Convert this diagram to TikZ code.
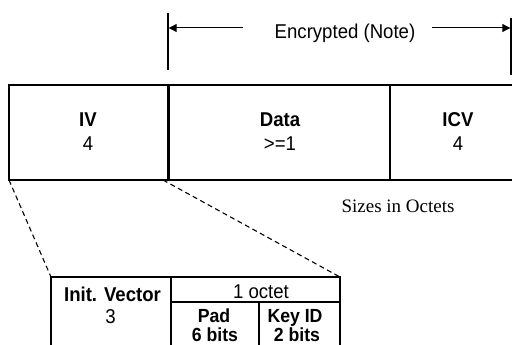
\documentclass[tikz,border=0pt]{standalone}
\usepackage{fontspec}
\setmainfont[FakeStretch=0.93]{Liberation Sans}
\newfontfamily\serifface{Liberation Serif}
\usetikzlibrary{arrows.meta,calc}
\begin{document}
\begin{tikzpicture}[x=1pt,y=-1pt,
  cell/.style={draw,line width=2.2pt,inner sep=0pt,outer sep=0pt,anchor=north west},
  lbl/.style={anchor=base,inner sep=0pt,font=\fontsize{20}{22}\selectfont\bfseries},
  num/.style={anchor=base,inner sep=0pt,font=\fontsize{20}{22}\selectfont},
  small/.style={anchor=base,inner sep=0pt,font=\fontsize{19}{21}\selectfont\bfseries},
  tick/.style={line width=1.4pt},
  dim/.style={line width=1pt,-{Triangle[length=8pt,width=8pt]}},
  zoomline/.style={line width=1.1pt,dash pattern=on 5pt off 3.5pt}]
\useasboundingbox[fill=white] (0,0) rectangle (512,345);

% frame: IV | Data | ICV
\node[cell,minimum width=159pt,minimum height=95pt] (iv)   at (9,85)   {};
\node[cell,minimum width=222pt,minimum height=95pt] (data) at (168,85) {};
\node[cell,minimum width=140pt,minimum height=95pt] (icv)  at (390,85) {};
\draw[line width=3pt] (data.north west) -- (data.south west);

\node[lbl] (ivt)   at (88,126)  {IV};
\node[num] (ivn)   at (88,150)  {4};
\node[lbl] (datat) at (280,126) {Data};
\node[num] (datan) at (280,150) {>=1};
\node[lbl] (icvt)  at (458,126) {ICV};
\node[num] (icvn)  at (458,150) {4};

% extent of the encrypted part
\coordinate (tl1) at (168,13);
\coordinate (tl2) at (168,70);
\coordinate (tr1) at (511,18);
\coordinate (tr2) at (511,75);
\draw[tick] (tl1) -- (tl2);
\draw[tick] (tr1) -- (tr2);
\node[anchor=base,inner sep=0pt,font=\fontsize{20}{22}\selectfont] (enc) at (345,39) {Encrypted (Note)};
\coordinate (al0) at (243,28);
\coordinate (al1) at (168.7,28);
\coordinate (ar0) at (432,28);
\coordinate (ar1) at (510.3,28);
\draw[dim] (al0) -- (al1);
\draw[dim] (ar0) -- (ar1);

\node[anchor=base,inner sep=0pt,font=\serifface\fontsize{19}{22}\selectfont] (sizes) at (398,212) {Sizes in Octets};

% expanded IV field
\node[cell,minimum width=120pt,minimum height=90pt] (ivx) at (51,277)  {};
\node[cell,minimum width=169pt,minimum height=25pt] (oct) at (171,277) {};
\node[cell,line width=1.6pt,minimum width=88pt,minimum height=60pt] (pad) at (171,302) {};
\node[cell,line width=1.6pt,minimum width=81pt,minimum height=60pt] (key) at (259,302) {};
\draw[line width=2.8pt] (oct.north west) -- (oct.north east);
\draw[line width=2.2pt] (ivx.north east) -- (ivx.south east);

\node[lbl] (ivxt) at (112.5,301) {Init. Vector};
\node[num] (ivxn) at (110.5,323) {3};
\node[num] (octt) at (261,298) {1 octet};
\node[small] (padt) at (214,322) {Pad};
\node[small] (padn) at (215,341.5) {6 bits};
\node[small] (keyt) at (295,322) {Key ID};
\node[small] (keyn) at (297,341.5) {2 bits};

\draw[zoomline] (iv.south west) -- (ivx.north west);
\draw[zoomline] ($(iv.south east)+(-5,0)$) -- (oct.north east);
\end{tikzpicture}
\end{document}
